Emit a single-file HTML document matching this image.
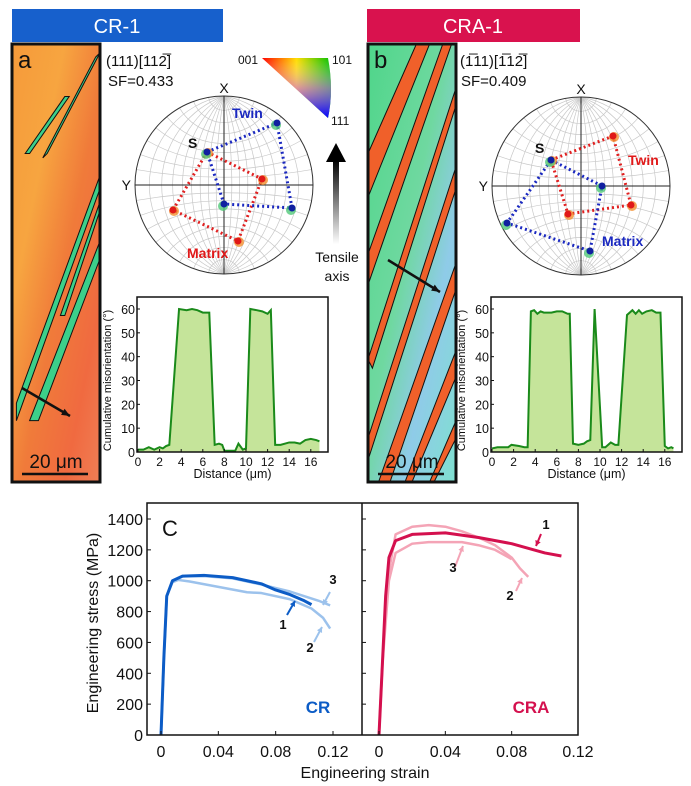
<!DOCTYPE html>
<html><head><meta charset="utf-8"><style>
html,body{margin:0;padding:0;background:#fff;}
svg{display:block;font-family:"Liberation Sans",Arial,sans-serif;}
</style></head><body>
<svg id="fig" width="691" height="786" viewBox="0 0 691 786" xmlns="http://www.w3.org/2000/svg">
<defs>
<linearGradient id="gA" x1="0" y1="0" x2="1" y2="1">
<stop offset="0" stop-color="#f59a3a"/><stop offset="0.3" stop-color="#f7a540"/><stop offset="0.55" stop-color="#f07b3a"/><stop offset="0.8" stop-color="#f06a40"/><stop offset="1" stop-color="#ef7e55"/></linearGradient>
<linearGradient id="gB" x1="0" y1="0" x2="1" y2="1">
<stop offset="0" stop-color="#4fd68a"/><stop offset="0.45" stop-color="#6fd8a0"/><stop offset="0.7" stop-color="#8fcbe8"/><stop offset="1" stop-color="#7fe0d0"/></linearGradient>
<linearGradient id="tri1" x1="0" y1="0" x2="1" y2="0"><stop offset="0" stop-color="#ff0000"/><stop offset="0.5" stop-color="#ffdd00"/><stop offset="1" stop-color="#00c000"/></linearGradient>
<linearGradient id="tri2" x1="0" y1="0" x2="0" y2="1"><stop offset="0" stop-color="#fff" stop-opacity="0"/><stop offset="0.5" stop-color="#cc66ff" stop-opacity="0.6"/><stop offset="1" stop-color="#0000ff" stop-opacity="1"/></linearGradient>
<linearGradient id="arrowG" x1="0" y1="0" x2="0" y2="1"><stop offset="0" stop-color="#000"/><stop offset="1" stop-color="#fff"/></linearGradient>
</defs>
<g id="root"></g>
</svg>
<script>
// ---- misorientation profile data (CR-1) ----
const mis1X = [0,0.5,1,1.5,2,2.3,2.6,2.9,3.8,4.5,5,5.5,6,6.6,7.1,7.5,7.8,8,9,9.3,9.7,10,10.4,11,11.5,12,12.3,12.7,13.2,14,14.5,15,15.5,16,16.5,16.8];
const mis1Y = [1,1,2,1,2,1.5,2.5,3,60,59.5,60,59.5,58.5,58.5,3,3.5,3,0.5,0.5,3.5,1,1.5,60,59.5,59,58,59.5,3,3,4,4,3.5,5,5.5,5,4.5];
// ---- misorientation profile data (CRA-1) ----
const mis2X = [0,0.5,1,1.5,1.8,2.5,3,3.3,3.6,3.9,4.2,4.5,4.8,5.5,6,6.5,7,7.2,7.5,8,8.5,8.8,9.1,9.5,10.2,10.5,11,11.4,11.7,12.5,13,13.3,13.6,13.9,14.3,14.8,15.2,15.6,16,16.3,16.6,16.8];
const mis2Y = [1.5,2,2,2,3,2.5,2,2,59,59.5,58,59,58.5,58.5,59,59,58,58,3.5,3,3.5,4.5,5,60,2,2,4,3,3,57.5,59.5,58,59.5,58,59,59.5,58.5,58.5,2.5,1.5,2,1.5];
const misTicksX = [0,2,4,6,8,10,12,14,16];
const misTicksY = [0,10,20,30,40,50,60];
// ---- stress-strain data ----
const crStrain1 = [0,0.002,0.004,0.008,0.015,0.03,0.05,0.07,0.08,0.09,0.1,0.105];
const crStress1 = [0,500,900,1000,1030,1035,1020,980,940,910,870,845];
const crStrain2 = [0,0.002,0.004,0.008,0.012,0.02,0.04,0.06,0.07,0.09,0.105,0.113,0.118];
const crStress2 = [0,500,900,990,1005,995,960,925,920,880,820,760,690];
const crStrain3 = [0,0.002,0.004,0.008,0.015,0.03,0.05,0.07,0.09,0.1,0.11,0.118];
const crStress3 = [0,500,900,1000,1028,1030,1015,975,930,900,870,840];
const craStrain1 = [0,0.002,0.004,0.006,0.01,0.02,0.04,0.06,0.08,0.1,0.11];
const craStress1 = [0,450,900,1150,1260,1300,1310,1280,1240,1180,1160];
const craStrain2 = [0,0.002,0.005,0.01,0.02,0.03,0.04,0.05,0.06,0.07,0.08,0.085,0.09];
const craStress2 = [0,450,1000,1300,1350,1360,1350,1320,1280,1230,1150,1080,1025];
const craStrain3 = [0,0.002,0.006,0.01,0.02,0.03,0.05,0.06,0.07,0.08];
const craStress3 = [0,450,1000,1180,1240,1250,1250,1230,1200,1140];
const strainTicks = [0,0.04,0.08,0.12];
const strainLabels = ["0","0.04","0.08","0.12"];
const stressTicks = [0,200,400,600,800,1000,1200,1400];

const NS="http://www.w3.org/2000/svg";
const root=document.getElementById('root');
function mk(tag,attrs,parent){const e=document.createElementNS(NS,tag);for(const k in attrs)e.setAttribute(k,attrs[k]);(parent||root).appendChild(e);return e;}
function txt(x,y,s,attrs,parent){const t=mk('text',Object.assign({x:x,y:y},attrs||{}),parent);t.textContent=s;return t;}

// ===== headers =====
let g=mk('g',{});


mk('rect',{x:12,y:9,width:211,height:33,fill:'#1760cc'},g);
txt(117,33,'CR-1',{'font-size':20,fill:'#fff','text-anchor':'middle'},g);
g=mk('g',{});


mk('rect',{x:367,y:9,width:213,height:33,fill:'#d9124e'},g);
txt(473,33,'CRA-1',{'font-size':20,fill:'#fff','text-anchor':'middle'},g);

// ===== EBSD maps =====
function ebsd(x,y,w,h,fill,bands,bandColor,label,name,arrow){
  const gg=mk('g',{});
  
  
  const clipId=name+'-clip';
  const cp=mk('clipPath',{id:clipId},gg);mk('rect',{x:x,y:y,width:w,height:h},cp);
  const inner=mk('g',{'clip-path':'url(#'+clipId+')'},gg);
  mk('rect',{x:x,y:y,width:w,height:h,fill:fill},inner);
  bands.forEach(b=>{
    mk('polygon',{points:b.map(p=>(x+p[0]*w)+','+(y+p[1]*h)).join(' '),fill:bandColor,stroke:'#111','stroke-width':1},inner);
  });
  mk('rect',{x:x,y:y,width:w,height:h,fill:'none',stroke:'#111','stroke-width':3},gg);
  txt(x+6,y+24,label,{'font-size':24,fill:'#111'},gg);
  mk('line',{x1:arrow[0],y1:arrow[1],x2:arrow[2],y2:arrow[3],stroke:'#111','stroke-width':2.5},gg);
  const a=Math.atan2(arrow[3]-arrow[1],arrow[2]-arrow[0]);
  const L=9;
  mk('polygon',{points:[arrow[2],arrow[3],arrow[2]-L*Math.cos(a-0.4),arrow[3]-L*Math.sin(a-0.4),arrow[2]-L*Math.cos(a+0.4),arrow[3]-L*Math.sin(a+0.4)].join(','),fill:'#111'},gg);
  txt(x+w/2,y+h-14,'20 μm',{'font-size':19,fill:'#111','text-anchor':'middle'},gg);
  mk('line',{x1:x+10,y1:y+h-8,x2:x+w-12,y2:y+h-8,stroke:'#111','stroke-width':2.5},gg);
}
ebsd(12,44,88,438,'url(#gA)',[
 [[0.95,0.03],[1,0.02],[0.4,0.25],[0.35,0.26]],
 [[1,0.3],[1,0.33],[0.05,0.86],[0.05,0.82]],
 [[1,0.45],[1,0.49],[0.3,0.86],[0.2,0.86]],
 [[0.6,0.12],[0.65,0.12],[0.2,0.25],[0.15,0.25]],
 [[1,0.36],[1,0.38],[0.6,0.62],[0.55,0.62]]
],'#3ccf8a','a','ebsd-map-cr1',[22,388,70,416]);
ebsd(368,44,88,438,'url(#gB)',[
 [[0.55,0],[0.7,0],[0,0.35],[0,0.25]],
 [[0.85,0],[0.95,0],[0,0.55],[0,0.48]],
 [[1,0.1],[1,0.14],[0.05,0.74],[0,0.72]],
 [[1,0.28],[1,0.33],[0,0.95],[0,0.9]],
 [[1,0.5],[1,0.56],[0.25,1],[0.12,1]],
 [[1,0.7],[1,0.76],[0.5,1],[0.42,1]],
 [[1,0.86],[1,0.9],[0.75,1],[0.7,1]]
],'#f0602a','b','ebsd-map-cra1',[388,260,440,292]);

// ===== orientation text =====
g=mk('g',{});
txt(106,66,'(111)[112\u0305]',{'font-size':15,fill:'#111'},g);
txt(108,86,'SF=0.433',{'font-size':15,fill:'#111'},g);
g=mk('g',{});
txt(460,66,'(1\u030511)[1\u030512\u0305]',{'font-size':15,fill:'#111'},g);
txt(461,86,'SF=0.409',{'font-size':15,fill:'#111'},g);

// ===== IPF triangle =====
g=mk('g',{});
const tp='M262,58 L328,58 Q334,90 328,118 Z';
mk('path',{d:tp,fill:'url(#tri1)'},g);
mk('path',{d:tp,fill:'url(#tri2)'},g);
txt(258,64,'001',{'font-size':12,fill:'#111','text-anchor':'end'},g);
txt(332,64,'101',{'font-size':12,fill:'#111'},g);
txt(331,125,'111',{'font-size':12,fill:'#111'},g);

// ===== tensile axis =====
g=mk('g',{});
mk('rect',{x:333,y:160,width:6,height:84,fill:'url(#arrowG)'},g);
mk('polygon',{points:'326,162 336,143 346,162',fill:'#000'},g);
txt(337,262,'Tensile',{'font-size':14,fill:'#111','text-anchor':'middle'},g);
txt(337,281,'axis',{'font-size':14,fill:'#111','text-anchor':'middle'},g);

// ===== pole figures =====
function pole(cx,cy,r,name,red,blue,redLab,blueLab,sPos){
  const gg=mk('g',{});
  
  
  const grid=mk('g',{stroke:'#c8c8c8','stroke-width':0.7,fill:'none'},gg);
  for(let k=-8;k<=8;k++){ if(k===0)continue;
    const ang=k*10*Math.PI/180;
    const rad=Math.abs(r/Math.sin(ang));
    mk('path',{d:`M${cx},${cy-r} A${rad},${rad} 0 0 ${k>0?1:0} ${cx},${cy+r}`},grid);
  }
  for(let k=-8;k<=8;k++){ if(k===0)continue;
    const lat=k*10*Math.PI/180;
    const rad=Math.abs(r/Math.tan(lat));
    const yi=cy - r*Math.sin(lat); const xi=r*Math.cos(lat);
    mk('path',{d:`M${cx-xi},${yi} A${rad},${rad} 0 0 ${k>0?0:1} ${cx+xi},${yi}`},grid);
  }
  mk('circle',{cx:cx,cy:cy,r:r,fill:'none',stroke:'#333','stroke-width':1},gg);
  mk('line',{x1:cx,y1:cy-r,x2:cx,y2:cy+r,stroke:'#222','stroke-width':1},gg);
  mk('line',{x1:cx-r,y1:cy,x2:cx+r,y2:cy,stroke:'#222','stroke-width':1},gg);
  txt(cx,cy-r-3,'X',{'font-size':14,fill:'#111','text-anchor':'middle'},gg);
  txt(cx-r-4,cy+5,'Y',{'font-size':14,fill:'#111','text-anchor':'end'},gg);
  mk('polygon',{points:red.map(p=>p.join(',')).join(' '),fill:'none',stroke:'#e02020','stroke-width':3,'stroke-dasharray':'2,3'},gg);
  mk('polygon',{points:blue.map(p=>p.join(',')).join(' '),fill:'none',stroke:'#1a28c0','stroke-width':3,'stroke-dasharray':'2,3'},gg);
  red.forEach(p=>{mk('circle',{cx:p[0]+1,cy:p[1]+1,r:5,fill:'#f39030',opacity:0.8},gg);mk('circle',{cx:p[0],cy:p[1],r:3.5,fill:'#e01818'},gg);});
  blue.forEach(p=>{mk('circle',{cx:p[0]-1,cy:p[1]+2,r:5,fill:'#50c878',opacity:0.8},gg);mk('circle',{cx:p[0],cy:p[1],r:3.5,fill:'#1020a0'},gg);});
  txt(sPos[0],sPos[1],'S',{'font-size':14,'font-weight':'bold',fill:'#111'},gg);
  txt(redLab[0],redLab[1],redLab[2],{'font-size':14,'font-weight':'bold',fill:'#e01818'},gg);
  txt(blueLab[0],blueLab[1],blueLab[2],{'font-size':14,'font-weight':'bold',fill:'#1a28c0'},gg);
}
pole(224,185,89,'pole-figure-cr1',
 [[207,152],[262,179],[238,241],[173,210]],
 [[207,152],[277,123],[292,208],[224,204]],
 [187,258,'Matrix'],[232,118,'Twin'],[188,148]);
pole(581,186,89,'pole-figure-cra1',
 [[551,160],[613,136],[631,205],[568,214]],
 [[551,160],[602,186],[590,251],[507,223]],
 [628,165,'Twin'],[602,246,'Matrix'],[535,153]);

// ===== misorientation charts =====
function misChart(name,x0,dataX,dataY){
  const gg=mk('g',{});
  
  
  const L=x0, R=x0+191, T=297, B=452;
  const sx=v=>x0+1+v*10.8;
  const sy=v=>B - v*(143/60);
  const pts=dataX.map((v,i)=>sx(v)+','+sy(dataY[i]));
  mk('polygon',{points:sx(dataX[0])+','+B+' '+pts.join(' ')+' '+sx(dataX[dataX.length-1])+','+B,fill:'#c5e49a'},gg);
  mk('polyline',{points:pts.join(' '),fill:'none',stroke:'#1a8a1a','stroke-width':2},gg);
  mk('rect',{x:L,y:T,width:R-L,height:B-T,fill:'none',stroke:'#111','stroke-width':1.5},gg);
  misTicksX.forEach(t=>{mk('line',{x1:sx(t),y1:B,x2:sx(t),y2:B-3,stroke:'#111'},gg);txt(sx(t),B+14,String(t),{'font-size':12,fill:'#111','text-anchor':'middle'},gg);});
  misTicksY.forEach(t=>{mk('line',{x1:L,y1:sy(t),x2:L+3,y2:sy(t),stroke:'#111'},gg);txt(L-2,sy(t)+5,String(t),{'font-size':12.5,fill:'#111','text-anchor':'end'},gg);});
  txt((L+R)/2,B+26,'Distance (μm)',{'font-size':12.5,fill:'#111','text-anchor':'middle'},gg);
  txt(0,0,'Cumulative misorientation (°)',{'font-size':11,fill:'#111','text-anchor':'middle',transform:`translate(${L-26},${(T+B)/2+6}) rotate(-90)`},gg);
}
misChart('misorientation-chart-cr1',137,mis1X,mis1Y);
misChart('misorientation-chart-cra1',491,mis2X,mis2Y);

// ===== stress strain =====
const sc=mk('g',{});


const T2=503,B2=735,L2=147,R2=578,D2=362;
const ys=v=>B2 - v*(216/1400);
const xsL=v=>161+v*(172/0.12);
const xsR=v=>379+v*(199/0.12);
function curve(xs,X,Y,col,w,name){
  const p=mk('polyline',{points:X.map((v,i)=>xs(v)+','+ys(Y[i])).join(' '),fill:'none',stroke:col,'stroke-width':w,'stroke-linejoin':'round'},sc);
  
  
}
curve(xsL,crStrain2,crStress2,'#9cc2ec',2.5,'cr-curve-2');
curve(xsL,crStrain3,crStress3,'#9cc2ec',2.5,'cr-curve-3');
curve(xsL,crStrain1,crStress1,'#0c5cc6',3,'cr-curve-1');
curve(xsR,craStrain2,craStress2,'#f4a4b6',2.5,'cra-curve-2');
curve(xsR,craStrain3,craStress3,'#f4a4b6',2.5,'cra-curve-3');
curve(xsR,craStrain1,craStress1,'#d4104e',3,'cra-curve-1');
mk('rect',{x:L2,y:T2,width:R2-L2,height:B2-T2,fill:'none',stroke:'#111','stroke-width':1.5},sc);
mk('line',{x1:D2,y1:T2,x2:D2,y2:B2,stroke:'#111','stroke-width':1.5},sc);
stressTicks.forEach(t=>{
  mk('line',{x1:L2,y1:ys(t),x2:L2+4,y2:ys(t),stroke:'#111'},sc);
  mk('line',{x1:D2,y1:ys(t),x2:D2+4,y2:ys(t),stroke:'#111'},sc);
  txt(L2-4,ys(t)+6,String(t),{'font-size':16,fill:'#111','text-anchor':'end'},sc);
});
strainTicks.forEach((t,i)=>{
  mk('line',{x1:xsL(t),y1:B2,x2:xsL(t),y2:B2-4,stroke:'#111'},sc);
  mk('line',{x1:xsR(t),y1:B2,x2:xsR(t),y2:B2-4,stroke:'#111'},sc);
  txt(xsL(t),B2+22,strainLabels[i],{'font-size':16,fill:'#111','text-anchor':'middle'},sc);
  txt(xsR(t),B2+22,strainLabels[i],{'font-size':16,fill:'#111','text-anchor':'middle'},sc);
});
txt(365,778,'Engineering strain',{'font-size':16,fill:'#111','text-anchor':'middle'},sc);
txt(0,0,'Engineering stress (MPa)',{'font-size':16,fill:'#111','text-anchor':'middle',transform:'translate(98,623) rotate(-90)'},sc);
txt(162,536,'C',{'font-size':22,fill:'#111'},sc);
txt(318,713,'CR',{'font-size':17,'font-weight':'bold',fill:'#0c5cc6','text-anchor':'middle'},sc);
txt(531,713,'CRA',{'font-size':17,'font-weight':'bold',fill:'#d4104e','text-anchor':'middle'},sc);
function callout(x1,y1,x2,y2,col,lab,lx,ly){
  mk('line',{x1:x1,y1:y1,x2:x2,y2:y2,stroke:col,'stroke-width':2},sc);
  const a=Math.atan2(y2-y1,x2-x1),L=6;
  mk('polygon',{points:[x2,y2,x2-L*Math.cos(a-0.5),y2-L*Math.sin(a-0.5),x2-L*Math.cos(a+0.5),y2-L*Math.sin(a+0.5)].join(','),fill:col},sc);
  txt(lx,ly,lab,{'font-size':13,'font-weight':'bold',fill:'#111','text-anchor':'middle'},sc);
}
callout(287,615,295,601,'#0c5cc6','1',283,629);
callout(314,642,322,627,'#9cc2ec','2',310,652);
callout(330,592,323,605,'#9cc2ec','3',333,584);
callout(541,534,536,546,'#d4104e','1',546,529);
callout(516,591,522,578,'#f4a4b6','2',510,600);
callout(455,567,463,546,'#f4a4b6','3',453,572);
</script>
</body></html>
